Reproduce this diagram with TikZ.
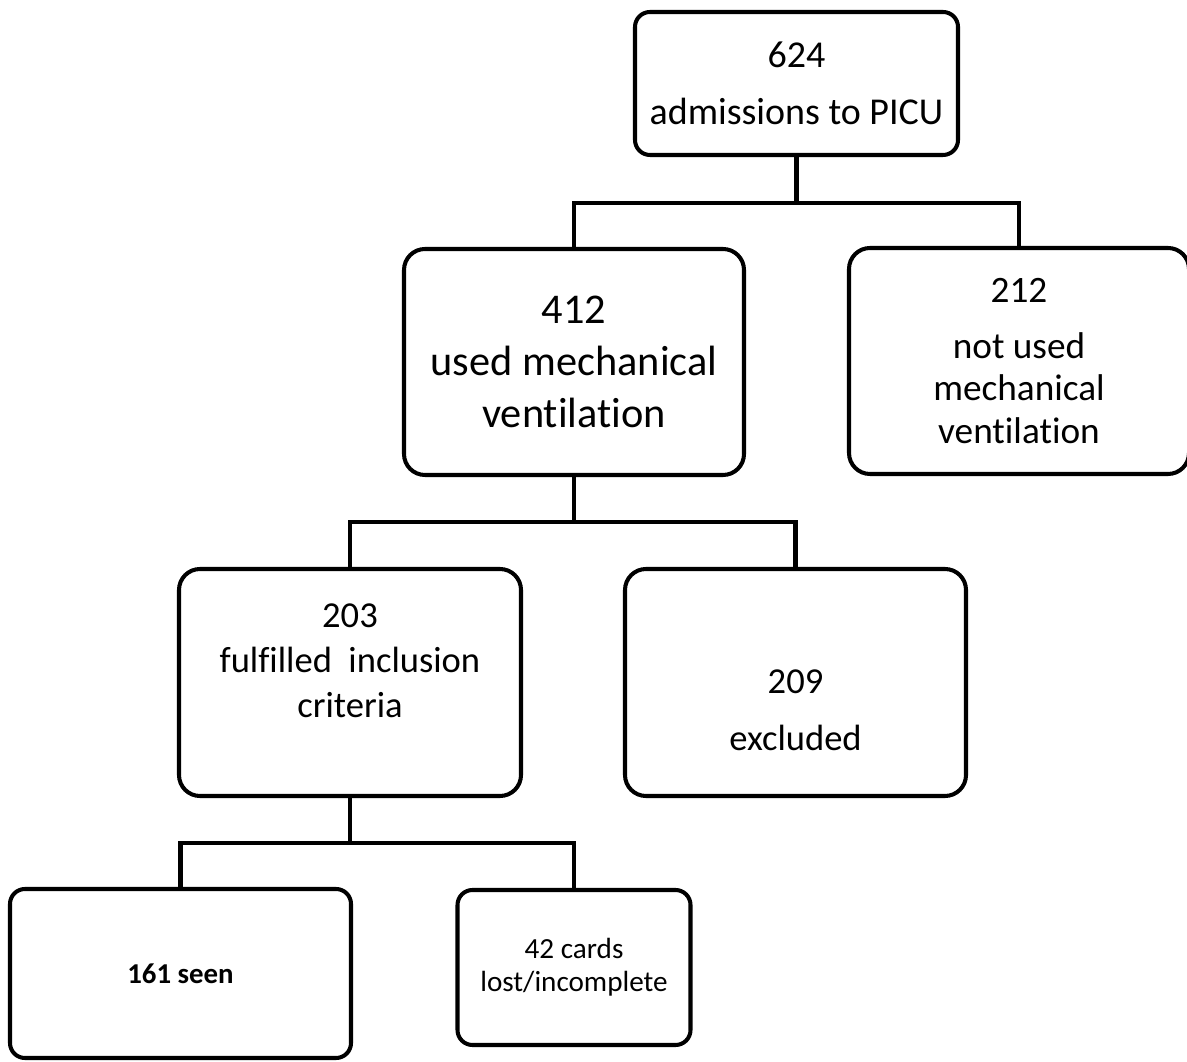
\documentclass[tikz,border=0pt]{standalone}
\usepackage{fontspec}
\setmainfont{Carlito}[Ligatures=NoCommon]
\usetikzlibrary{positioning,calc}

\begin{document}
\begin{tikzpicture}[
  box/.style={draw,line width=2.3pt,rounded corners=#1,align=center,
              inner sep=0pt,fill=white},
  box/.default=0.42cm,
  link/.style={line width=2.3pt,line join=miter},
  fbig/.style={font=\fontsize{24.1}{29.5}\selectfont},
  fmid/.style={font=\fontsize{21.2}{24.2}\selectfont},
  fsml/.style={font=\fontsize{16.6}{18.7}\selectfont},
]
\useasboundingbox (0,0) rectangle (23.74,21.22);

% --- boxes ---
\node[box=0.3cm,font=\fontsize{21.6}{25}\selectfont,minimum width=6.46cm,minimum height=2.86cm] (adm) at (15.93,19.55)
  {624\\[7.4pt]admissions to PICU};
\node[box,fbig,minimum width=6.80cm,minimum height=4.52cm] (vent) at (11.48,13.98)
  {412\\used mechanical\\ventilation};
\node[box,fmid,minimum width=6.80cm,minimum height=4.52cm] (novent) at (20.38,14.00)
  {212\\[7.6pt]not used\\mechanical\\ventilation};
\node[box,font=\fontsize{20.8}{25.7}\selectfont,minimum width=6.84cm,minimum height=4.54cm] (incl) at (7.00,7.57)
  {203\\fulfilled\ \ inclusion\\criteria\\[-1pt]\mbox{}};
\node[box,font=\fontsize{20.8}{25.5}\selectfont,minimum width=6.82cm,minimum height=4.54cm] (excl) at (15.91,7.57)
  {\mbox{}\\[19.7pt]209\\[6.8pt]excluded};
\node[box=0.3cm,font=\fontsize{16.4}{18.7}\selectfont\bfseries,minimum width=6.82cm,minimum height=3.38cm] (seen) at (3.61,1.75)
  {161 seen};
\node[box=0.3cm,fsml,minimum width=4.66cm,minimum height=3.10cm] (lost) at (11.48,1.87)
  {42 cards\\lost/incomplete};

% --- junctions ---
\coordinate (j1) at (15.93,17.16);
\coordinate (j2) at (11.48,10.78);
\coordinate (j3) at (7.00,4.36);

% --- tree connectors ---
\draw[link] (adm.south) -- (j1);
\draw[link] (vent.north) |- (j1) -| (novent.north);
\draw[link] (vent.south) -- (j2);
\draw[link] (incl.north) |- (j2) -| (excl.north);
\draw[link] (incl.south) -- (j3);
\draw[link] (seen.north) |- (j3) -| (lost.north);

\end{tikzpicture}
\end{document}
